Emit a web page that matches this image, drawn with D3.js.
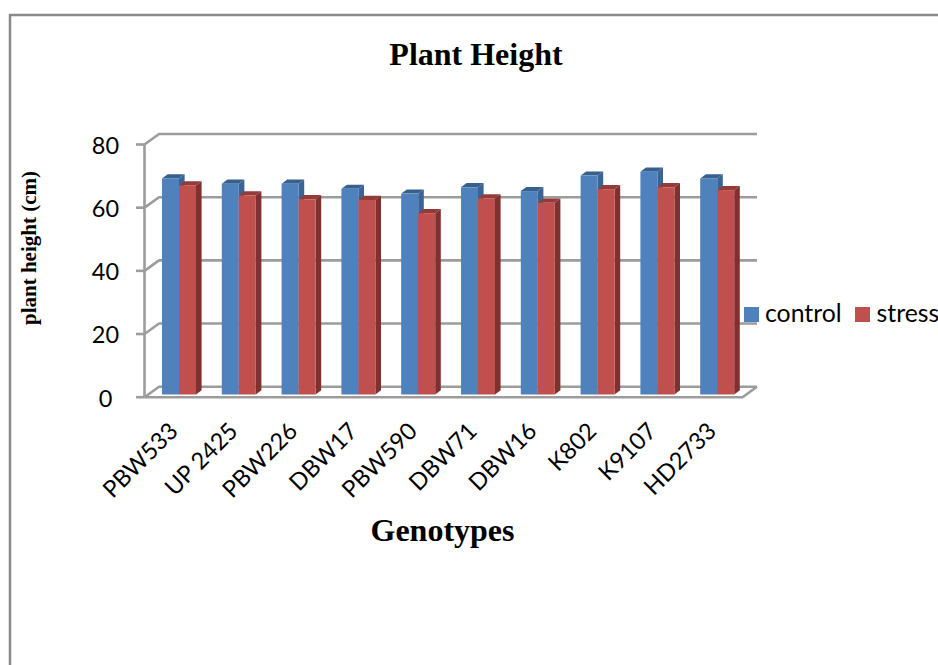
<!DOCTYPE html>
<html><head><meta charset="utf-8">
<script src="https://cdn.jsdelivr.net/npm/d3@7"></script>
<style>html,body{margin:0;padding:0;background:#fff}svg{display:block}</style>
</head><body><svg id="c" width="938" height="665"></svg>
<script>
const categories = ["PBW533","UP 2425","PBW226","DBW17","PBW590","DBW71","DBW16","K802","K9107","HD2733"];
const control = [68.4,66.7,66.7,65.1,63.6,65.6,64.4,69.3,70.5,68.4];
const stress = [66.2,63,61.8,61.6,57.4,62.1,60.7,65,65.6,64.7];
const seriesNames = ["control","stress"];
const yTicks = [0,20,40,60,80];

const svg = d3.select("#c");
const sans = "Lato, 'Open Sans', sans-serif", serif = "'Liberation Serif', serif";
const dark = {control:"#3A6494", stress:"#7F3130"}, mid = {control:"#38608F", stress:"#943B39"}, face = {control:"#4F81BD", stress:"#C0504D"};

// page frame
svg.append("path").attr("d","M10,665V15H938").attr("fill","none").attr("stroke","#8a8a8a").attr("stroke-width",2.5);

const y = d3.scaleLinear().domain([0,80]).range([397.2,144.5]);
const dx = 14.5, dy = -10.5, x0 = 144.5, x1 = 742.5;
const x = d3.scaleBand().domain(categories).range([x0,x1]).paddingInner(0).paddingOuter(0);
const grid = "#9C9C9C", sw = 2.6;

yTicks.forEach(t=>{
  const yy=y(t);
  svg.append("path").attr("d",`M${x0},${yy}L${x0+dx},${yy+dy}H${x1+dx}`).attr("fill","none").attr("stroke",grid).attr("stroke-width",sw);
  svg.append("line").attr("x1",x0-8.5).attr("x2",x0).attr("y1",yy).attr("y2",yy).attr("stroke",grid).attr("stroke-width",sw);
  svg.append("text").attr("x",105.5).attr("y",yy+9.3).attr("text-anchor","middle").attr("font-family",sans).attr("font-size",23.5).attr("fill","#000").text(t);
});
svg.append("path").attr("d",`M${x0},${y(0)}H${x1}L${x1+dx},${y(0)+dy}`).attr("fill","none").attr("stroke",grid).attr("stroke-width",sw);
svg.append("line").attr("x1",x0).attr("x2",x0).attr("y1",y(0)).attr("y2",y(80)).attr("stroke",grid).attr("stroke-width",sw);

// bars
const bw = 17, bd = 5.6, bh = 4.2, base = y(0)-2.7;
const unit = y(0)-y(1);
categories.forEach((c,i)=>{
  const ctr = x(c)+x.step()/2;
  const left = ctr-12.4;
  [["control",control[i]],["stress",stress[i]]].forEach(([s,v],j)=>{
    const l = left+j*bw, r=l+bw, t=base-v*unit;
    svg.append("path").attr("d",`M${r},${t}l${bd},${-bh}V${base-bh}l${-bd},${bh}Z`).attr("fill",dark[s]);
    svg.append("path").attr("d",`M${l},${t}l${bd},${-bh}h${bw}l${-bd},${bh}Z`).attr("fill",mid[s]);
    svg.append("rect").attr("x",l).attr("y",t).attr("width",bw).attr("height",base-t).attr("fill",face[s]);
  });
  svg.append("text").attr("transform",`translate(${ctr+5},432.5) rotate(-45)`).attr("text-anchor","end").attr("font-family",sans).attr("font-size",23.5).attr("fill","#000").text(c);
});

// titles
svg.append("text").attr("x",476).attr("y",65).attr("text-anchor","middle").attr("font-family",serif).attr("font-weight","bold").attr("font-size",32).text("Plant Height");
svg.append("text").attr("x",442.5).attr("y",541).attr("text-anchor","middle").attr("font-family",serif).attr("font-weight","bold").attr("font-size",32).text("Genotypes");
svg.append("text").attr("transform","translate(36,248) rotate(-90)").attr("text-anchor","middle").attr("font-family",serif).attr("font-weight","bold").attr("font-size",21).text("plant height (cm)");

// legend
const lg = [[744,765],[855,876.5]];
seriesNames.forEach((s,i)=>{
  svg.append("rect").attr("x",lg[i][0]).attr("y",307).attr("width",15).attr("height",15).attr("fill",face[s]);
  svg.append("text").attr("x",lg[i][1]).attr("y",322).attr("font-family",sans).attr("font-size",24.8).attr("fill","#000").text(s);
});
</script></body></html>
